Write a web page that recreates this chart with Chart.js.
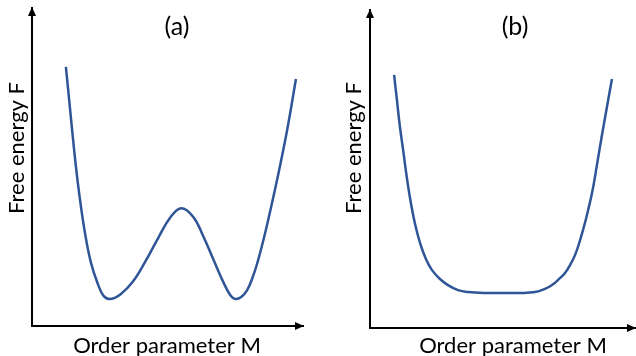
<!DOCTYPE html>
<html lang="en">
<head>
    <meta charset="UTF-8">
    <title>Free energy vs order parameter</title>
    <style>
        body { margin: 0; background: #fff; }
        .panel { position: absolute; top: 0; width: 318px; height: 356px; }
        #panel-a { left: 0; }
        #panel-b { left: 318px; }
    </style>
</head>
<body>
    <div class="panel" id="panel-a"><canvas id="chart-a" width="318" height="356"></canvas></div>
    <div class="panel" id="panel-b"><canvas id="chart-b" width="318" height="356"></canvas></div>

    <script src="https://cdn.jsdelivr.net/npm/chart.js"></script>
    <script>
        // (a) double well (arbitrary units 0-10)
        const mA = [1.25, 1.37, 1.49, 1.62, 1.77, 1.95, 2.17, 2.43, 2.65, 2.90, 3.27, 3.71, 4.19,
                    4.67, 5.11, 5.51, 5.96, 6.32, 6.69, 7.06, 7.32, 7.50, 7.72, 7.94, 8.13, 8.31,
                    8.49, 8.68, 9.04, 9.41, 9.74];
        const fA = [8.15, 7.12, 6.08, 5.02, 3.98, 2.95, 2.01, 1.32, 0.94, 0.85, 1.00, 1.38, 2.04,
                    2.79, 3.42, 3.70, 3.42, 2.82, 2.10, 1.38, 0.97, 0.85, 0.91, 1.13, 1.50, 1.97,
                    2.54, 3.20, 4.58, 6.14, 7.77];

        // (b) single flat-bottomed well
        const mB = [0.91, 1.02, 1.13, 1.25, 1.36, 1.51, 1.70, 1.89, 2.11, 2.34, 2.64, 2.94, 3.32,
                    3.70, 4.34, 5.02, 5.66, 6.23, 6.60, 6.87, 7.17, 7.36, 7.55, 7.74, 7.92, 8.11,
                    8.38, 8.57, 8.76, 9.13];
        const fB = [7.96, 7.14, 6.32, 5.60, 4.91, 4.09, 3.27, 2.67, 2.17, 1.82, 1.54, 1.35, 1.19,
                    1.13, 1.10, 1.10, 1.10, 1.13, 1.23, 1.35, 1.57, 1.73, 1.98, 2.30, 2.74, 3.30,
                    4.25, 5.16, 6.10, 7.83];

        const xLabel = 'Order parameter M';
        const yLabel = 'Free energy F';
        const panelTitles = ['(a)', '(b)'];

        const FAMILY = 'Lato, Carlito, "Open Sans", sans-serif';
        const LINE = '#2f5597';

        // arrows on the axes + the hand placed labels
        function annotations(title, t, yl, xl) {
            return {
                id: 'annotations',
                afterDraw(chart) {
                    const ctx = chart.ctx;
                    const a = chart.chartArea;
                    ctx.save();
                    ctx.fillStyle = '#000';
                    // arrow heads
                    ctx.beginPath();
                    ctx.moveTo(a.left, a.top - 1);
                    ctx.lineTo(a.left - 4, a.top + 8);
                    ctx.lineTo(a.left + 4, a.top + 8);
                    ctx.closePath();
                    ctx.fill();
                    ctx.beginPath();
                    ctx.moveTo(a.right + 1, a.bottom);
                    ctx.lineTo(a.right - 8, a.bottom - 4);
                    ctx.lineTo(a.right - 8, a.bottom + 4);
                    ctx.closePath();
                    ctx.fill();

                    ctx.textAlign = 'center';
                    ctx.textBaseline = 'middle';
                    ctx.font = '25px ' + FAMILY;
                    ctx.fillText(title, t[0], t[1]);
                    ctx.font = '22px ' + FAMILY;
                    ctx.fillText(xLabel, xl[0], xl[1]);
                    ctx.translate(yl[0], yl[1]);
                    ctx.rotate(-Math.PI / 2);
                    ctx.fillText(yLabel, 0, 0);
                    ctx.restore();
                }
            };
        }

        function makeChart(id, xs, ys, pad, title, t, yl, xl) {
            const points = xs.map((x, i) => ({ x: x, y: ys[i] }));
            return new Chart(document.getElementById(id), {
                type: 'line',
                data: {
                    datasets: [{
                        data: points,
                        borderColor: LINE,
                        borderWidth: 2.5,
                        pointRadius: 0,
                        tension: 0.4,
                        fill: false
                    }]
                },
                options: {
                    responsive: false,
                    animation: false,
                    layout: { padding: pad },
                    plugins: { legend: { display: false }, tooltip: { enabled: false } },
                    scales: {
                        x: {
                            type: 'linear', min: 0, max: 10,
                            grid: { display: false },
                            ticks: { display: false },
                            border: { color: '#000', width: 2 }
                        },
                        y: {
                            min: 0, max: 10,
                            grid: { display: false },
                            ticks: { display: false },
                            border: { color: '#000', width: 2 }
                        }
                    }
                },
                plugins: [annotations(title, t, yl, xl)]
            });
        }

        makeChart('chart-a', mA, fA, { left: 24, top: 8, right: 15, bottom: 22 },
            panelTitles[0], [177, 27], [17, 148], [167, 346]);
        makeChart('chart-b', mB, fB, { left: 44, top: 10, right: 1, bottom: 20 },
            panelTitles[1], [197, 27], [36, 148], [195, 346]);
    </script>
</body>
</html>
